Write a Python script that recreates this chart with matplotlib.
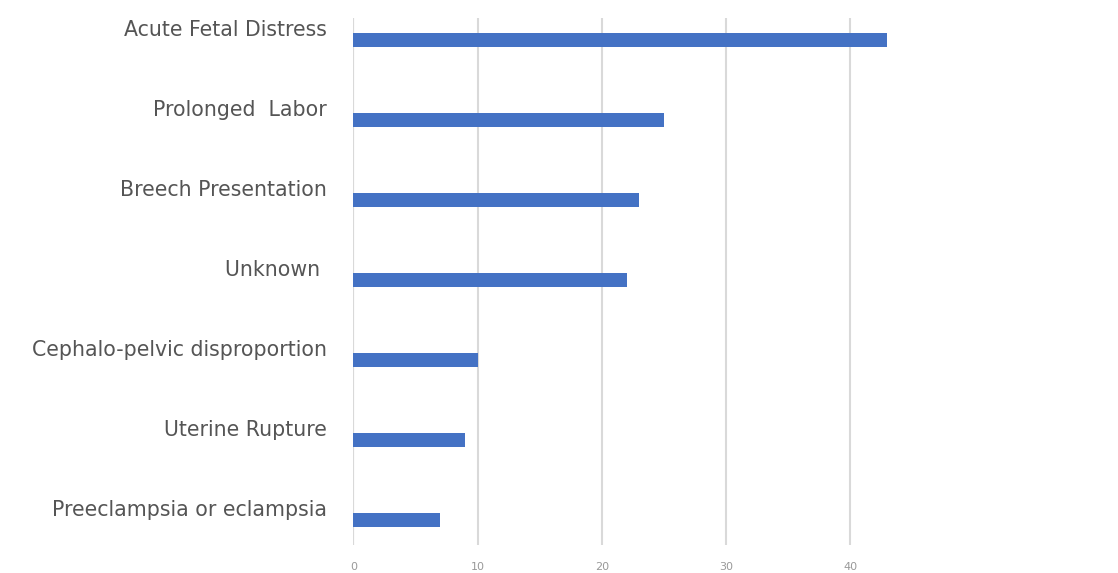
import matplotlib.pyplot as plt

causes = ['Acute Fetal Distress', 'Prolonged  Labor', 'Breech Presentation', 'Unknown ',
          'Cephalo-pelvic disproportion', 'Uterine Rupture', 'Preeclampsia or eclampsia']
counts = [43, 25, 23, 22, 10, 9, 7]
x_ticks = [0, 10, 20, 30, 40]

plt.rcParams['font.family'] = ['DejaVu Sans']

fig = plt.figure(figsize=(11.18, 5.73), dpi=100)
ax = fig.add_axes([0.316, 0.0489, 0.5, 0.9197])

pos = list(range(len(causes)))
ax.barh(pos, counts, height=0.17, color='#4472C4', zorder=3)

ax.set_xlim(0, 45)
ax.set_ylim(6.3125, -0.275)
ax.set_xticks(x_ticks)
ax.set_xticklabels([str(t) for t in x_ticks], fontsize=8, color='#999999')
ax.tick_params(axis='x', length=0, pad=12)

# category labels sit a little above each bar
ax.set_yticks([p - 0.15 for p in pos])
ax.set_yticklabels(causes, fontsize=14.8, color='#555555')
ax.tick_params(axis='y', length=0, pad=19)

ax.grid(axis='x', color='#d9d9d9', linewidth=1.5, zorder=0)
for s in ax.spines.values():
    s.set_visible(False)
ax.axvline(0, color='#d9d9d9', linewidth=1.5, zorder=1)

fig.savefig('out.png', dpi=100)
